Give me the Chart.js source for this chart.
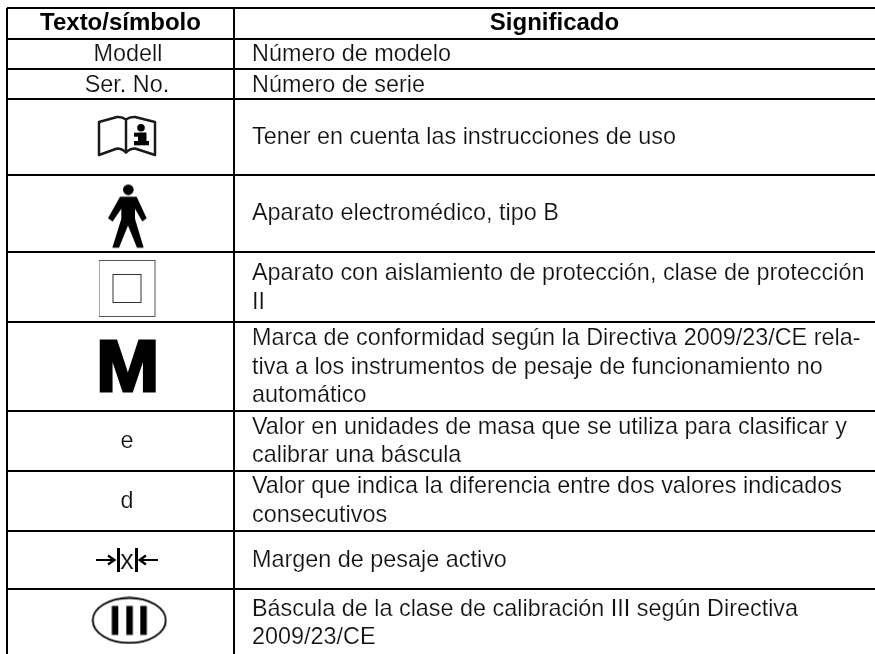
<!DOCTYPE html>
<html>
<head>
<meta charset="utf-8">
<title>Texto/símbolo</title>
<style>
  html, body { margin: 0; padding: 0; background: #fff; overflow: hidden; }
  canvas { display: block; }
</style>
<script src="https://cdn.jsdelivr.net/npm/chart.js@4/dist/chart.umd.min.js"></script>
</head>
<body>
<canvas id="tabla" width="875" height="654"></canvas>
<script>
// Table, units are px from the top left corner of the table
const encabezados = ['Texto/símbolo', 'Significado'];
const encabezadoX = [113.5, 547.5];
const encabezadoY = 22;

const anchoColumnas = [227, 641];
const altoFilas = [31, 30, 30.3, 75.4, 77, 70, 89.3, 60, 59.7, 58.3];

const simbolos = ['Modell', 'Ser. No.', 'e', 'd', 'x'];
const simboloTextoX = [121, 120, 120, 120, 120];
const simboloTextoY = [53, 83.7, 440, 500, 561];
const simboloTamano = [23.4, 23.4, 23.4, 23.4, 27];

const iconos = ['libro', 'persona', 'cuadro', 'flechas', 'ovalo'];
const iconoX = [120, 121, 120.5, 120, 122.3];
const iconoY = [128, 208, 281, 552, 612.4];

const marcaM = 'M';
const marcaX = 120.8;
const marcaY = 383;

const significados = [
  ['Número de modelo'],
  ['Número de serie'],
  ['Tener en cuenta las instrucciones de uso'],
  ['Aparato electromédico, tipo B'],
  ['Aparato con aislamiento de protección, clase de protección', 'II'],
  ['Marca de conformidad según la Directiva 2009/23/CE rela-', 'tiva a los instrumentos de pesaje de funcionamiento no', 'automático'],
  ['Valor en unidades de masa que se utiliza para clasificar y', 'calibrar una báscula'],
  ['Valor que indica la diferencia entre dos valores indicados', 'consecutivos'],
  ['Margen de pesaje activo'],
  ['Báscula de la clase de calibración III según Directiva', '2009/23/CE']
];
const significadoX = 245;
const significadoY = [53, 83.7, 136, 212, 286.5, 365.5, 440, 499.5, 558.7, 622];

const fuente = '"Liberation Sans", Arial, sans-serif';
const colorTexto = '#111';
const altoLinea = 28.2;

// Bordes de columnas y filas
let bordesX = [0];
for (let i = 0; i < anchoColumnas.length - 1; i++) {
  bordesX.push(bordesX[i] + anchoColumnas[i]);
}
let bordesY = [0];
for (let i = 0; i < altoFilas.length; i++) {
  bordesY.push(bordesY[i] + altoFilas[i]);
}

function nuevoIcono(w, h, dibujar) {
  const c = document.createElement('canvas');
  c.width = w;
  c.height = h;
  const ctx = c.getContext('2d');
  ctx.fillStyle = '#000';
  ctx.strokeStyle = '#000';
  dibujar(ctx);
  return c;
}

// The pictograms are used as point styles, the scales place them
const dibujos = {
  libro: nuevoIcono(60, 42, function (ctx) {
    ctx.lineWidth = 2.5;
    ctx.lineJoin = 'round';
    ctx.strokeStyle = '#1a1a1a';
    ctx.beginPath();
    ctx.moveTo(29, 37.5);
    ctx.lineTo(29, 4.5);
    ctx.quadraticCurveTo(25, 1.5, 20, 2);
    ctx.lineTo(2, 7);
    ctx.lineTo(2, 40);
    ctx.lineTo(20, 33.5);
    ctx.quadraticCurveTo(25, 33.5, 29, 37.5);
    ctx.quadraticCurveTo(33, 33.5, 38, 33.5);
    ctx.lineTo(58, 40);
    ctx.lineTo(58, 7);
    ctx.lineTo(38, 2);
    ctx.quadraticCurveTo(33, 1.5, 29, 4.5);
    ctx.stroke();
    // la i
    ctx.beginPath();
    ctx.arc(44, 12.7, 3.8, 0, Math.PI * 2);
    ctx.fill();
    ctx.fillRect(37, 17.7, 12, 4);
    ctx.fillRect(41, 17.7, 8.5, 12);
    ctx.fillRect(37, 26, 15, 4.3);
  }),
  persona: nuevoIcono(42, 67, function (ctx) {
    ctx.translate(-27, -3);
    ctx.scale(1 / 3, 1 / 3);
    ctx.beginPath();
    ctx.arc(145, 31, 16, 0, Math.PI * 2);
    ctx.fill();
    ctx.beginPath();
    ctx.moveTo(120, 52);
    ctx.lineTo(170, 52);
    ctx.lineTo(200, 116);
    ctx.lineTo(187, 126);
    ctx.lineTo(165, 88);
    ctx.lineTo(165, 118);
    ctx.lineTo(191, 205);
    ctx.lineTo(171, 205);
    ctx.lineTo(144, 138);
    ctx.lineTo(117, 205);
    ctx.lineTo(97, 205);
    ctx.lineTo(124, 118);
    ctx.lineTo(124, 88);
    ctx.lineTo(98, 126);
    ctx.lineTo(84, 116);
    ctx.closePath();
    ctx.fill();
  }),
  cuadro: nuevoIcono(58, 58, function (ctx) {
    ctx.lineWidth = 1;
    ctx.strokeStyle = '#555';
    ctx.strokeRect(0.5, 0.5, 56, 56);
    ctx.strokeStyle = '#333';
    ctx.strokeRect(14.5, 14.5, 28, 28);
  }),
  flechas: nuevoIcono(64, 26, function (ctx) {
    ctx.fillRect(22, 1, 3, 24);
    ctx.fillRect(40, 1, 3, 24);
    ctx.lineWidth = 2.2;
    ctx.beginPath();
    ctx.moveTo(1, 13);
    ctx.lineTo(19, 13);
    ctx.moveTo(13, 8.5);
    ctx.lineTo(19.5, 13);
    ctx.lineTo(13, 17.5);
    ctx.moveTo(63, 13);
    ctx.lineTo(45, 13);
    ctx.moveTo(51, 8.5);
    ctx.lineTo(44.5, 13);
    ctx.lineTo(51, 17.5);
    ctx.stroke();
  }),
  ovalo: nuevoIcono(76, 48, function (ctx) {
    ctx.lineWidth = 1.8;
    ctx.beginPath();
    ctx.ellipse(38, 24, 36.5, 22.5, 0, 0, Math.PI * 2);
    ctx.stroke();
    ctx.fillRect(20.5, 9.5, 6.5, 29);
    ctx.fillRect(35, 9.5, 6.5, 29);
    ctx.fillRect(49, 9.5, 6.5, 29);
  })
};

// Light type: a thin white outline takes some weight off the regular font
function textoFino(ctx, texto, px, py) {
  ctx.fillText(texto, px, py);
  ctx.strokeText(texto, px, py);
}

// Dibuja los textos en las posiciones que dan las escalas
const textosTabla = {
  id: 'textosTabla',
  afterDatasetsDraw(chart) {
    const ctx = chart.ctx;
    const x = chart.scales.x;
    const y = chart.scales.y;
    ctx.save();
    ctx.fillStyle = '#000';
    ctx.textBaseline = 'alphabetic';
    ctx.textAlign = 'center';

    ctx.font = 'bold 24px ' + fuente;
    for (let i = 0; i < encabezados.length; i++) {
      ctx.fillText(encabezados[i], x.getPixelForValue(encabezadoX[i]), y.getPixelForValue(encabezadoY));
    }

    ctx.fillStyle = colorTexto;
    ctx.strokeStyle = '#fff';
    ctx.lineWidth = 0.2;
    for (let i = 0; i < simbolos.length; i++) {
      ctx.font = simboloTamano[i] + 'px ' + fuente;
      textoFino(ctx, simbolos[i], x.getPixelForValue(simboloTextoX[i]), y.getPixelForValue(simboloTextoY[i]));
    }

    ctx.font = '23.4px ' + fuente;
    ctx.textAlign = 'left';
    for (let i = 0; i < significados.length; i++) {
      const lineas = significados[i];
      for (let j = 0; j < lineas.length; j++) {
        const py = y.getPixelForValue(significadoY[i]) + (j - (lineas.length - 1) / 2) * altoLinea;
        textoFino(ctx, lineas[j], x.getPixelForValue(significadoX), py);
      }
    }

    // La M va en negrita, mas ancha y con trazo
    ctx.translate(x.getPixelForValue(marcaX), y.getPixelForValue(marcaY));
    ctx.scale(1.05, 1);
    ctx.textAlign = 'center';
    ctx.font = 'bold 72px ' + fuente;
    ctx.fillStyle = '#000';
    ctx.strokeStyle = '#000';
    ctx.lineWidth = 3;
    ctx.lineJoin = 'miter';
    ctx.miterLimit = 2;
    ctx.fillText(marcaM, 0, 0);
    ctx.strokeText(marcaM, 0, 0);
    ctx.restore();
  }
};

const config = {
  type: 'scatter',
  data: {
    datasets: [
      {
        label: 'Símbolos',
        data: iconos.map((nombre, i) => ({ x: iconoX[i], y: iconoY[i] })),
        pointStyle: (c) => dibujos[iconos[c.dataIndex]],
        pointRadius: 10,
        pointHoverRadius: 10,
        clip: false
      }
    ]
  },
  options: {
    responsive: false,
    animation: false,
    events: [],
    layout: { autoPadding: false, padding: { left: 7, top: 8, right: 0, bottom: 0 } },
    plugins: {
      legend: { display: false },
      tooltip: { enabled: false },
      title: { display: false }
    },
    scales: {
      x: {
        type: 'linear',
        min: 0,
        max: 868,
        afterBuildTicks: (axis) => { axis.ticks = bordesX.map((v) => ({ value: v })); },
        ticks: { display: false, autoSkip: false },
        grid: { color: '#000', lineWidth: 2, drawTicks: false },
        border: { display: false }
      },
      y: {
        type: 'linear',
        reverse: true,
        min: 0,
        max: 646,
        afterBuildTicks: (axis) => { axis.ticks = bordesY.map((v) => ({ value: v })); },
        ticks: { display: false, autoSkip: false },
        grid: { color: '#000', lineWidth: 2, drawTicks: false },
        border: { display: false }
      }
    }
  },
  plugins: [textosTabla]
};

const tabla = new Chart(document.getElementById('tabla'), config);
</script>
</body>
</html>
